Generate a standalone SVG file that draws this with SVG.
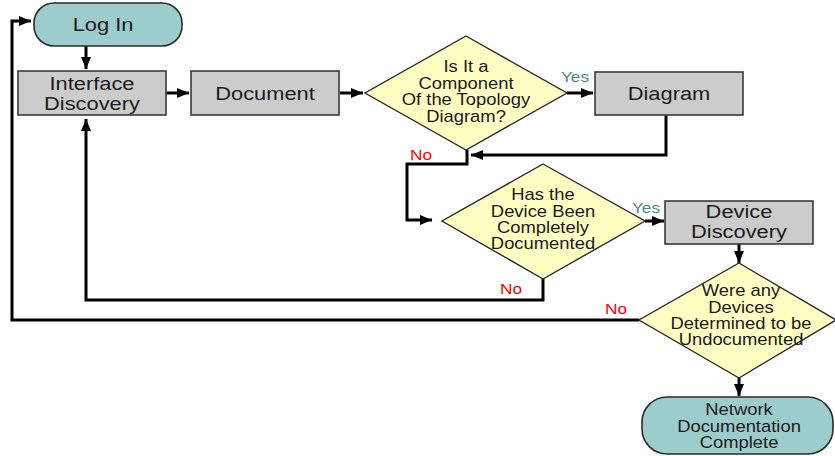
<svg xmlns="http://www.w3.org/2000/svg" width="835" height="456" viewBox="0 0 835 456">
<style>
.term{fill:#9ccccc;stroke:#2a2a2a;stroke-width:1.6}
.box{fill:#cccccc;stroke:#3a3a3a;stroke-width:1.6}
.dec{fill:#ffffc4;stroke:#2a2a2a;stroke-width:1.4}
.t{font-family:"Liberation Sans",Arial,sans-serif;fill:#1a1a1a;text-anchor:middle}
.b{font-size:19px}
.s{font-size:16px}
.yes{font-family:"Liberation Sans",Arial,sans-serif;font-size:15px;fill:#4a8a8c;text-anchor:middle}
.no{font-family:"Liberation Sans",Arial,sans-serif;font-size:15px;fill:#ff0000;text-anchor:middle}
.c{fill:none;stroke:#000;stroke-width:3;stroke-linejoin:miter}
</style>
<defs>
<marker id="ah" markerUnits="userSpaceOnUse" markerWidth="12" markerHeight="10" refX="12" refY="5" orient="auto">
<path d="M0,0 L12,5 L0,10 z" fill="#000"/>
</marker>
</defs>
<rect width="835" height="456" fill="#ffffff"/>
<g id="connectors">
<path class="c" d="M86,46 L86,69" marker-end="url(#ah)"/>
<path class="c" d="M166,93 L189,93" marker-end="url(#ah)"/>
<path class="c" d="M340,93 L363,93" marker-end="url(#ah)"/>
<path class="c" d="M567,93 L593,93" marker-end="url(#ah)"/>
<path class="c" d="M666,115 L666,155 L471,155" marker-end="url(#ah)"/>
<path class="c" d="M467,150 L467,164 L407,164 L407,220 L432,220" marker-end="url(#ah)"/>
<path class="c" d="M645,221 L664,221" marker-end="url(#ah)"/>
<path class="c" d="M543,279 L543,300 L86,300 L86,119" marker-end="url(#ah)"/>
<path class="c" d="M739,244 L739,263" marker-end="url(#ah)"/>
<path class="c" d="M639,320 L12,320 L12,21 L31,21" marker-end="url(#ah)"/>
<path class="c" d="M739,378 L739,396" marker-end="url(#ah)"/>
<text class="yes" transform="matrix(1.15,0,0,1,575,0)" y="82">Yes</text>
<text class="yes" transform="matrix(1.15,0,0,1,646,0)" y="213">Yes</text>
<text class="no" transform="matrix(1.15,0,0,1,421,0)" y="160">No</text>
<text class="no" transform="matrix(1.15,0,0,1,511,0)" y="294">No</text>
<text class="no" transform="matrix(1.15,0,0,1,616,0)" y="314">No</text>
</g>
<g id="login">
<rect class="term" x="34" y="3" width="148" height="43" rx="20"/>
<text class="t b" transform="matrix(1.15,0,0,1,103,0)" y="31">Log In</text>
</g>
<g id="interface-discovery">
<rect class="box" x="18" y="71" width="148" height="44"/>
<text class="t b" transform="matrix(1.15,0,0,1,92,0)" y="90.5">Interface</text>
<text class="t b" transform="matrix(1.15,0,0,1,92,0)" y="110.5">Discovery</text>
</g>
<g id="document">
<rect class="box" x="191" y="71" width="148" height="44"/>
<text class="t b" transform="matrix(1.15,0,0,1,265,0)" y="100">Document</text>
</g>
<g id="decision-topology">
<polygon class="dec" points="466,36 567,93 466,150 365,93"/>
<text class="t s" transform="matrix(1.15,0,0,1,466,0)" y="72.5">Is It a</text>
<text class="t s" transform="matrix(1.15,0,0,1,466,0)" y="89">Component</text>
<text class="t s" transform="matrix(1.15,0,0,1,466,0)" y="105.5">Of the Topology</text>
<text class="t s" transform="matrix(1.15,0,0,1,466,0)" y="122">Diagram?</text>
</g>
<g id="diagram">
<rect class="box" x="595" y="72" width="148" height="43"/>
<text class="t b" transform="matrix(1.15,0,0,1,669,0)" y="100">Diagram</text>
</g>
<g id="decision-documented">
<polygon class="dec" points="543,164 645,221 543,279 442,221"/>
<text class="t s" transform="matrix(1.15,0,0,1,543,0)" y="200.5">Has the</text>
<text class="t s" transform="matrix(1.15,0,0,1,543,0)" y="217.5">Device Been</text>
<text class="t s" transform="matrix(1.15,0,0,1,543,0)" y="233.5">Completely</text>
<text class="t s" transform="matrix(1.15,0,0,1,543,0)" y="249.5">Documented</text>
</g>
<g id="device-discovery">
<rect class="box" x="665" y="201" width="148" height="43"/>
<text class="t b" transform="matrix(1.15,0,0,1,739,0)" y="218.5">Device</text>
<text class="t b" transform="matrix(1.15,0,0,1,739,0)" y="238.5">Discovery</text>
</g>
<g id="decision-undocumented">
<polygon class="dec" points="739,263 836,320 739,378 639,320"/>
<text class="t s" transform="matrix(1.15,0,0,1,741,0)" y="296.5">Were any</text>
<text class="t s" transform="matrix(1.15,0,0,1,741,0)" y="313.5">Devices</text>
<text class="t s" transform="matrix(1.15,0,0,1,741,0)" y="329.5">Determined to be</text>
<text class="t s" transform="matrix(1.15,0,0,1,741,0)" y="345.5">Undocumented</text>
</g>
<g id="complete">
<rect class="term" x="642" y="397" width="191" height="57" rx="25"/>
<text class="t s" transform="matrix(1.15,0,0,1,739,0)" y="415.5">Network</text>
<text class="t s" transform="matrix(1.15,0,0,1,739,0)" y="432.5">Documentation</text>
<text class="t s" transform="matrix(1.15,0,0,1,739,0)" y="448.5">Complete</text>
</g>
</svg>
